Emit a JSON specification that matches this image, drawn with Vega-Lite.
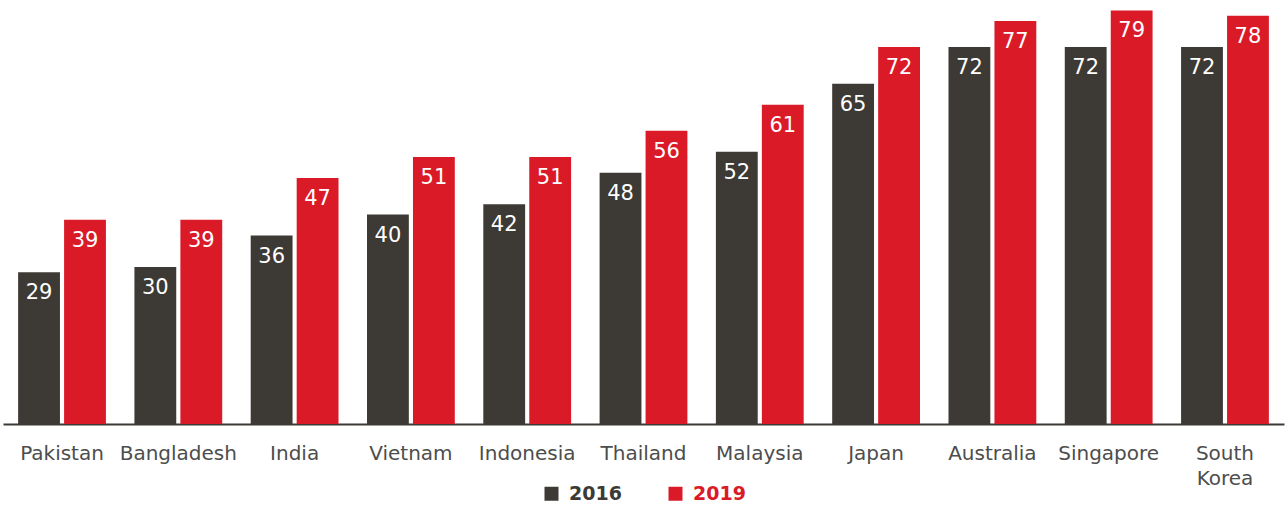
{
  "$schema": "https://vega.github.io/schema/vega-lite/v6.json",
  "autosize": "none",
  "width": 1281,
  "height": 424,
  "padding": {"left": 3, "top": 0, "right": 3, "bottom": 81},
  "background": "white",
  "config": {"view": {"stroke": null}, "font": "DejaVu Sans"},
  "data": {"values": [
    {"country": "Pakistan", "year": "2016", "value": 29},
    {"country": "Pakistan", "year": "2019", "value": 39},
    {"country": "Bangladesh", "year": "2016", "value": 30},
    {"country": "Bangladesh", "year": "2019", "value": 39},
    {"country": "India", "year": "2016", "value": 36},
    {"country": "India", "year": "2019", "value": 47},
    {"country": "Vietnam", "year": "2016", "value": 40},
    {"country": "Vietnam", "year": "2019", "value": 51},
    {"country": "Indonesia", "year": "2016", "value": 42},
    {"country": "Indonesia", "year": "2019", "value": 51},
    {"country": "Thailand", "year": "2016", "value": 48},
    {"country": "Thailand", "year": "2019", "value": 56},
    {"country": "Malaysia", "year": "2016", "value": 52},
    {"country": "Malaysia", "year": "2019", "value": 61},
    {"country": "Japan", "year": "2016", "value": 65},
    {"country": "Japan", "year": "2019", "value": 72},
    {"country": "Australia", "year": "2016", "value": 72},
    {"country": "Australia", "year": "2019", "value": 77},
    {"country": "Singapore", "year": "2016", "value": 72},
    {"country": "Singapore", "year": "2019", "value": 79},
    {"country": "South Korea", "year": "2016", "value": 72},
    {"country": "South Korea", "year": "2019", "value": 78}
  ]},
  "encoding": {
    "x": {
      "field": "country", "type": "nominal", "sort": null, "title": null,
      "scale": {"paddingInner": 0.245, "paddingOuter": 0.13},
      "axis": {
        "labelAngle": 0, "ticks": false, "domainColor": "#3d3935", "domainWidth": 2,
        "labelFontSize": 20, "labelColor": "#4d4d4d", "labelPadding": 19,
        "labelLineHeight": 25, "labelBaseline": "top",
        "labelExpr": "datum.label == 'South Korea' ? ['South', 'Korea'] : datum.label"
      }
    },
    "xOffset": {"field": "year", "type": "nominal", "scale": {"paddingInner": 0.09, "paddingOuter": 0}},
    "y": {"field": "value", "type": "quantitative", "scale": {"domain": [0, 81], "nice": false}, "axis": null}
  },
  "layer": [
    {
      "mark": {"type": "bar"},
      "encoding": {
        "color": {
          "field": "year", "type": "nominal",
          "scale": {"domain": ["2016", "2019"], "range": ["#3d3935", "#db1a28"]},
          "legend": {
            "title": null, "orient": "none", "direction": "horizontal",
            "legendX": 539, "legendY": 484,
            "symbolType": "square", "symbolSize": 196, "symbolStrokeWidth": 0, "symbolOpacity": 1,
            "labelFontSize": 19, "labelFontWeight": "bold", "labelOffset": 8,
            "columnPadding": 44,
            "encode": {"labels": {"update": {"fill": {"signal": "datum.value === '2016' ? '#3d3935' : '#db1a28'"}}}}
          }
        }
      }
    },
    {
      "mark": {"type": "text", "color": "white", "fontSize": 21, "baseline": "alphabetic", "dy": 27, "align": "center"},
      "encoding": {"text": {"field": "value", "type": "quantitative"}}
    }
  ]
}
